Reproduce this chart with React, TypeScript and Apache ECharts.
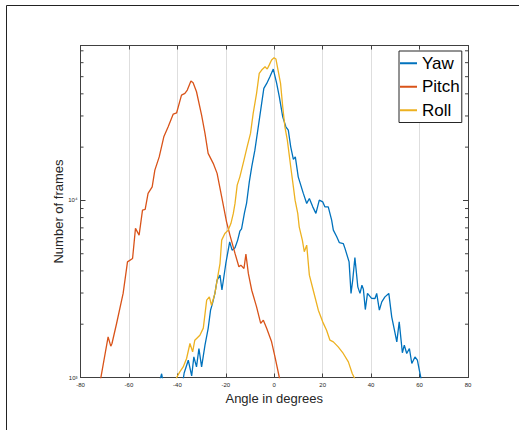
import React, { useEffect, useRef } from "react";
import * as echarts from "echarts";

const xTicks = [-80, -60, -40, -20, 0, 20, 40, 60, 80];
const minorTickValues = [2000, 3000, 4000, 5000, 6000, 7000, 8000, 9000, 20000, 30000, 40000, 50000, 60000, 70000];

const yawAngle = [-48, -46.5, -45.5, -38, -37.2, -35.5, -34.1, -33.2, -32.1, -31.1, -30, -28.6, -27.3, -26.3, -25.5, -24.5, -23.6, -22.4, -21.6, -20, -18.4, -17.4, -16.2, -15.1, -14.2, -13.5, -12.3, -11.4, -10.3, -9.3, -8, -6.6, -5.2, -4.3, -3.1, -1.8, -0.4, 1, 2.1, 3.5, 4.8, 5.8, 6.8, 7.9, 8.7, 9.9, 12, 13.4, 14.5, 15.9, 17.2, 18.6, 20, 20.9, 22.3, 23.7, 24.4, 25.8, 26.9, 28.5, 29.2, 30.9, 31.7, 32.4, 33.3, 34.5, 35.4, 36.2, 36.8, 37.6, 38.5, 40.2, 41.6, 42.3, 43.4, 44.4, 45.7, 47.3, 48.5, 49.9, 50.6, 51.6, 52.9, 53.7, 54.7, 55.8, 56.8, 58.1, 59.1, 60.5, 61.2];
const yawCount = [880, 1050, 880, 900, 1060, 1252, 1020, 1307, 1148, 1458, 1148, 1522, 1890, 2400, 2620, 2985, 3545, 3785, 3120, 4405, 5830, 5240, 5400, 5970, 6700, 6900, 8500, 9700, 12740, 15490, 19230, 26050, 35330, 42950, 45800, 49900, 55200, 45800, 38500, 29650, 26050, 24950, 20090, 17050, 17620, 13590, 10960, 9620, 10260, 9200, 8450, 10040, 9820, 9200, 9200, 7740, 6800, 6230, 5770, 5710, 5360, 4500, 2985, 3545, 4760, 3250, 2985, 3320, 3150, 2420, 2985, 2800, 2793, 2985, 2400, 2673, 2853, 2985, 2200, 1773, 1590, 2062, 1380, 1522, 1367, 1458, 1200, 1307, 1252, 1000, 880];

const pitchAngle = [-72.5, -68.6, -67.5, -67, -65.1, -62.4, -60.6, -58.5, -57.3, -55.8, -54.4, -53.3, -52.1, -50.4, -49.3, -47.5, -45.6, -43.8, -41.7, -40.3, -38.3, -36.9, -35.9, -34.4, -33.5, -32.1, -30, -28.6, -27.3, -25.2, -23.6, -21.7, -19.7, -18.3, -16.2, -14.6, -13.8, -12.5, -11.7, -10.7, -9.3, -7.3, -5.6, -4.5, -3.1, -1.1, 0.3, 2.1, 3];
const pitchCount = [850, 1695, 1503, 1556, 2018, 2985, 4500, 4700, 6950, 6370, 8810, 8890, 10960, 11940, 14830, 17620, 22870, 26050, 30730, 31270, 39350, 40200, 42000, 47200, 46150, 41100, 30340, 23900, 18450, 16200, 14220, 10480, 7570, 6370, 5020, 4220, 4310, 4130, 4970, 3870, 3110, 2506, 2020, 2107, 1890, 1590, 1307, 1000, 880];

const rollAngle = [-41, -40.3, -39, -37.6, -36.2, -34.8, -33.7, -32.8, -30.7, -29.3, -27.9, -26.8, -25.9, -24.5, -23.1, -22.4, -21.7, -20.4, -19, -17.9, -16.9, -16.2, -15.3, -14.2, -12.5, -11.2, -9.8, -8.7, -7.3, -6.2, -5.2, -3.8, -2.9, -2.1, -1.1, -0.1, 0.7, 1.7, 2.6, 3.5, 4.4, 5.4, 6.8, 7.9, 8.6, 9.7, 10.3, 11.6, 12.4, 13.4, 14.5, 16.1, 18.2, 20, 21.6, 23, 24.4, 26.4, 28.5, 30.6, 32.2, 33, 34];
const rollCount = [900, 1000, 1076, 1148, 1280, 1556, 1395, 1625, 1733, 1900, 2733, 2853, 2560, 2985, 3870, 4400, 5970, 6510, 6800, 7400, 8450, 9620, 12200, 13590, 16900, 20090, 23900, 31000, 40200, 52200, 54500, 56900, 55200, 58100, 62100, 64000, 62900, 53300, 45800, 33800, 26050, 21900, 15490, 11940, 10040, 8450, 7100, 5970, 5130, 5590, 3785, 3110, 2400, 2062, 1850, 1625, 1590, 1490, 1367, 1225, 1053, 1000, 930];

const seriesNames = ["Yaw", "Pitch", "Roll"];
const seriesColors = ["#0072BD", "#D95319", "#EDB120"];

const zip = (a: number[], b: number[]) => a.map((v, i) => [v, b[i]]);

const FONT = "'Liberation Sans', Arial, Helvetica, sans-serif";
const AX = "#404040";

export default function App() {
  const ref = useRef<HTMLDivElement>(null);
  useEffect(() => {
    if (!ref.current) return;
    document.body.style.margin = "0";
    const chart = echarts.init(ref.current, undefined, { renderer: "svg" });
    const supers: Record<number, string> = { 3: "³", 4: "⁴" };
    const dataSets = [zip(yawAngle, yawCount), zip(pitchAngle, pitchCount), zip(rollAngle, rollCount)];
    chart.setOption({
      animation: false,
      backgroundColor: "#ffffff",
      textStyle: { fontFamily: FONT },
      grid: { left: 80.5, right: 51, top: 45.5, bottom: 52.5, containLabel: false },
      graphic: [
        {
          type: "rect",
          shape: { x: 6.5, y: 5.5, width: 700, height: 700 },
          style: { fill: "none", stroke: "#222", lineWidth: 1 },
          silent: true,
        },
      ],
      legend: {
        data: seriesNames.map((n) => ({ name: n, icon: "rect" })),
        orient: "vertical",
        left: 399,
        top: 51,
        itemWidth: 17,
        itemHeight: 2,
        itemGap: 5,
        padding: [3, 2, 3, 1],
        borderColor: "#262626",
        borderWidth: 1,
        backgroundColor: "#ffffff",
        textStyle: { fontSize: 17, color: "#000", fontFamily: FONT, lineHeight: 18.5 },
      },
      xAxis: [
        {
          type: "value",
          min: xTicks[0],
          max: xTicks[xTicks.length - 1],
          interval: 20,
          name: "Angle in degrees",
          nameLocation: "middle",
          nameGap: 14,
          nameMoveOverlap: false,
          nameTextStyle: { fontSize: 13, color: "#262626", fontFamily: FONT },
          axisLine: { show: true, onZero: false, lineStyle: { color: AX, width: 1 } },
          axisTick: { show: true, inside: true, length: 4, lineStyle: { color: AX } },
          axisLabel: { fontSize: 6, color: "#262626", margin: 4, fontFamily: FONT },
          splitLine: { show: true, lineStyle: { color: "#dedede", width: 1 } },
        },
        {
          type: "value",
          position: "top",
          min: xTicks[0],
          max: xTicks[xTicks.length - 1],
          interval: 20,
          axisLine: { show: true, onZero: false, lineStyle: { color: AX, width: 1 } },
          axisTick: { show: true, inside: true, length: 4, lineStyle: { color: AX } },
          axisLabel: { show: false },
          splitLine: { show: false },
        },
      ],
      yAxis: [
        {
          type: "log",
          logBase: 10,
          min: 1000,
          max: 75000,
          name: "Number of frames",
          nameLocation: "middle",
          nameGap: 16,
          nameMoveOverlap: false,
          nameTextStyle: { fontSize: 13, color: "#262626", fontFamily: FONT },
          axisLine: { show: true, onZero: false, lineStyle: { color: AX, width: 1 } },
          axisTick: { show: true, inside: true, length: 5, lineStyle: { color: AX } },
          axisLabel: {
            fontSize: 6,
            color: "#262626",
            margin: 3,
            fontFamily: FONT,
            showMaxLabel: false,
            formatter: (v: number) => {
              const e = Math.log10(v);
              return Math.abs(e - Math.round(e)) < 1e-6 ? "10" + (supers[Math.round(e)] || "") : "";
            },
          },
          splitLine: { show: false },
        },
        {
          type: "log",
          logBase: 10,
          min: 1000,
          max: 75000,
          position: "right",
          axisLine: { show: true, onZero: false, lineStyle: { color: AX, width: 1 } },
          axisTick: { show: true, inside: true, length: 5, lineStyle: { color: AX } },
          axisLabel: { show: false },
          splitLine: { show: false },
        },
      ],
      series: [
        ...seriesNames.map((name, i) => ({
          name,
          type: "line",
          data: dataSets[i],
          showSymbol: false,
          symbol: "none",
          color: seriesColors[i],
          lineStyle: { color: seriesColors[i], width: 1.3 },
          clip: true,
          z: 3 + i,
        })),
        {
          name: "minorTicks",
          type: "custom",
          silent: true,
          clip: false,
          z: 10,
          data: minorTickValues.map((v) => [0, v]),
          encode: { x: 0, y: 1 },
          renderItem: (_p: any, api: any) => {
            const v = api.value(1);
            const l = api.coord([xTicks[0], v]);
            const r = api.coord([xTicks[xTicks.length - 1], v]);
            return {
              type: "group",
              children: [
                { type: "line", shape: { x1: l[0], y1: l[1], x2: l[0] + 3, y2: l[1] }, style: { stroke: AX, lineWidth: 1 } },
                { type: "line", shape: { x1: r[0], y1: r[1], x2: r[0] - 3, y2: r[1] }, style: { stroke: AX, lineWidth: 1 } },
              ],
            };
          },
        },
      ],
    });
    return () => chart.dispose();
  }, []);
  return <div ref={ref} style={{ position: "fixed", left: 0, top: 0, width: 519, height: 430 }} />;
}
